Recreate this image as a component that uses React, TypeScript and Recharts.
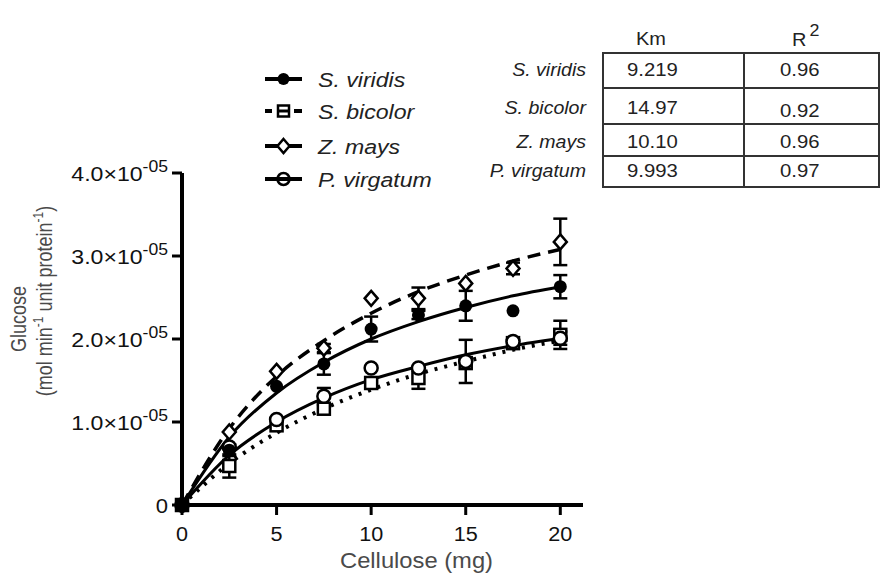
import React from 'react';
import { ComposedChart, Line, Scatter, XAxis, YAxis, ErrorBar, Label } from 'recharts';

// ---- data (glucose in units of 1e-5 mol min-1 unit protein-1) ----
const cellulose = [0, 2.5, 5, 7.5, 10, 12.5, 15, 17.5, 20];

const viridisMean = [0, 0.66, 1.43, 1.70, 2.12, 2.29, 2.40, 2.34, 2.63];
const viridisErr = [0, 0.07, 0, 0.13, 0.15, 0.05, 0.18, 0, 0.14];
const bicolorMean = [0, 0.47, 0.96, 1.16, 1.47, 1.53, 1.71, 1.95, 2.05];
const bicolorErr = [0, 0.14, 0, 0, 0, 0.13, 0, 0, 0.17];
const maysMean = [0, 0.88, 1.61, 1.89, 2.49, 2.49, 2.67, 2.85, 3.17];
const maysErr = [0, 0, 0, 0.05, 0, 0.13, 0, 0.07, 0.28];
const virgatumMean = [0, 0.70, 1.03, 1.31, 1.65, 1.65, 1.73, 1.97, 2.01];
const virgatumErr = [0, 0, 0, 0.10, 0, 0, 0.26, 0, 0.08];

// fitted curves
const viridisFit = [0, 0.82, 1.35, 1.72, 2.0, 2.21, 2.38, 2.52, 2.63];
const bicolorFit = [0, 0.5, 0.87, 1.16, 1.39, 1.58, 1.73, 1.87, 1.98];
const maysFit = [0, 0.92, 1.55, 1.98, 2.31, 2.57, 2.77, 2.94, 3.08];
const virgatumFit = [0, 0.6, 1.0, 1.29, 1.51, 1.67, 1.81, 1.92, 2.01];

const xTicks = [0, 5, 10, 15, 20];
const yTicks = [0, 1, 2, 3, 4];
const yTickExponent = '-05';

const speciesNames = ['S. viridis', 'S. bicolor', 'Z. mays', 'P. virgatum'];
const kmValues = ['9.219', '14.97', '10.10', '9.993'];
const r2Values = ['0.96', '0.92', '0.96', '0.97'];

const FONT = '"Liberation Sans", Arial, Helvetica, sans-serif';

const fitRows = cellulose.map((x, i) => ({
  x,
  viridis: viridisFit[i],
  bicolor: bicolorFit[i],
  mays: maysFit[i],
  virgatum: virgatumFit[i],
}));

const toPoints = (mean: number[], err: number[]) =>
  cellulose.map((x, i) => ({ x, y: mean[i], err: err[i] }));

const viridisPts = toPoints(viridisMean, viridisErr);
const bicolorPts = toPoints(bicolorMean, bicolorErr);
const maysPts = toPoints(maysMean, maysErr);
const virgatumPts = toPoints(virgatumMean, virgatumErr);

// horizontally stretched text helper (the reference type is slightly wide)
const SText = ({ x, y, sx = 1.08, children, ...rest }: any) => (
  <g transform={`translate(${x},${y}) scale(${sx},1)`}>
    <text x={0} y={0} fontFamily={FONT} {...rest}>
      {children}
    </text>
  </g>
);

// ---- marker shapes ----
const FilledCircle = (p: any) => <circle cx={p.cx} cy={p.cy} r={6.5} fill="#000" />;
const OpenSquare = (p: any) => (
  <rect x={p.cx - 6} y={p.cy - 6} width={12} height={12} fill="#fff" stroke="#000" strokeWidth={2.5} />
);
const OpenDiamond = (p: any) => (
  <polygon
    points={`${p.cx},${p.cy - 7.5} ${p.cx + 6.5},${p.cy} ${p.cx},${p.cy + 7.5} ${p.cx - 6.5},${p.cy}`}
    fill="#fff"
    stroke="#000"
    strokeWidth={2.5}
  />
);
const OpenCircle = (p: any) => (
  <circle cx={p.cx} cy={p.cy} r={6.5} fill="#fff" stroke="#000" strokeWidth={2.5} />
);

// ---- ticks ----
const XTick = (props: any) => {
  const { x, y, payload } = props;
  return (
    <SText x={x} y={y + 24} sx={1.03} textAnchor="middle" fontSize={21} fill="#111">
      {payload.value}
    </SText>
  );
};

const YTick = (props: any) => {
  const { x, y, payload } = props;
  const v = payload.value as number;
  if (v === 0) {
    return (
      <SText x={x - 2} y={y + 8} sx={1.05} textAnchor="end" fontSize={21} fill="#111">
        0
      </SText>
    );
  }
  return (
    <SText x={x - 2} y={y + 8} sx={1.1} textAnchor="end" fontSize={21} fill="#111">
      <tspan>{`${v.toFixed(1)}×10`}</tspan>
      <tspan dy={-9} fontSize={16}>{yTickExponent}</tspan>
    </SText>
  );
};

const YTitle = (props: any) => {
  const vb = props.viewBox || { x: 0, y: 173, width: 182, height: 332 };
  const cy = vb.y + vb.height / 2;
  const c1x = 26;
  const c1y = cy - 20;
  const c2x = 52;
  const c2y = cy - 38;
  return (
    <g fontFamily={FONT} fill="#4a4a4a" fontSize={18}>
      <g transform={`translate(${c1x},${c1y}) scale(1.22,1) rotate(-90)`}>
        <text x={0} y={0} textAnchor="middle">
          Glucose
        </text>
      </g>
      <g transform={`translate(${c2x},${c2y}) scale(1.22,1) rotate(-90)`}>
        <text x={0} y={0} textAnchor="middle">
          <tspan>(mol min</tspan>
          <tspan dy={-7} fontSize={12}>-1</tspan>
          <tspan dy={7}> unit protein</tspan>
          <tspan dy={-7} fontSize={12}>-1</tspan>
          <tspan dy={7}>)</tspan>
        </text>
      </g>
    </g>
  );
};

const XTitle = (props: any) => {
  const vb = props.viewBox || { x: 182, y: 505, width: 401, height: 60 };
  const cx = vb.x + vb.width / 2 + 34;
  return (
    <SText x={cx} y={568} sx={1.08} textAnchor="middle" fontSize={22} fill="#4a4a4a">
      Cellulose (mg)
    </SText>
  );
};

// ---- legend & table overlay ----
const legendRowsY = [79, 111, 146, 179];
const tableRowBaselines = [76, 114, 148, 177];
const tableLines = [88, 124, 156];

const LegendMarker = ({ i, y }: { i: number; y: number }) => {
  const mx = 283.5;
  if (i === 0)
    return (
      <g>
        <line x1={265} x2={302} y1={y} y2={y} stroke="#000" strokeWidth={4} />
        <circle cx={mx} cy={y} r={6} fill="#000" />
      </g>
    );
  if (i === 1)
    return (
      <g>
        <line x1={265} x2={272} y1={y} y2={y} stroke="#000" strokeWidth={4} />
        <line x1={278} x2={289} y1={y} y2={y} stroke="#000" strokeWidth={3} />
        <line x1={294} x2={302} y1={y} y2={y} stroke="#000" strokeWidth={4} />
        <rect x={mx - 5.5} y={y - 5.5} width={11} height={11} fill="none" stroke="#000" strokeWidth={2.5} />
      </g>
    );
  if (i === 2)
    return (
      <g>
        <line x1={265} x2={302} y1={y} y2={y} stroke="#000" strokeWidth={4} />
        <polygon
          points={`${mx},${y - 7} ${mx + 6},${y} ${mx},${y + 7} ${mx - 6},${y}`}
          fill="#fff"
          stroke="#000"
          strokeWidth={2.5}
        />
      </g>
    );
  return (
    <g>
      <line x1={265} x2={302} y1={y} y2={y} stroke="#000" strokeWidth={4} />
      <circle cx={mx} cy={y} r={6} fill="none" stroke="#000" strokeWidth={2.5} />
    </g>
  );
};

const Overlay = () => (
  <svg
    width={892}
    height={583}
    style={{ position: 'absolute', left: 0, top: 0, pointerEvents: 'none' }}
    fontFamily={FONT}
  >
    {speciesNames.map((name, i) => (
      <g key={`lg-${i}`}>
        <LegendMarker i={i} y={legendRowsY[i]} />
        <SText x={318} y={legendRowsY[i] + 8} sx={1.1} fontSize={21} fontStyle="italic" fill="#222">
          {name}
        </SText>
      </g>
    ))}
    {/* table */}
    <SText x={651} y={45} sx={1.05} textAnchor="middle" fontSize={19} fill="#222">
      Km
    </SText>
    <SText x={792} y={46} sx={1.05} fontSize={19} fill="#222">
      <tspan>R</tspan>
      <tspan dy={-10} dx={3} fontSize={17}>2</tspan>
    </SText>
    <rect x={603} y={53} width={276} height={134} fill="none" stroke="#333" strokeWidth={2} />
    <line x1={744} x2={744} y1={53} y2={188} stroke="#333" strokeWidth={2} />
    {tableLines.map((ly, i) => (
      <line key={`tl-${i}`} x1={603} x2={879} y1={ly} y2={ly} stroke="#333" strokeWidth={2} />
    ))}
    {speciesNames.map((name, i) => (
      <g key={`tr-${i}`}>
        <SText x={586} y={tableRowBaselines[i]} sx={1.03} textAnchor="end" fontSize={19} fontStyle="italic" fill="#222">
          {name}
        </SText>
        <SText x={627} y={tableRowBaselines[i]} sx={1.07} fontSize={19} fill="#222">
          {kmValues[i]}
        </SText>
        <SText x={780} y={tableRowBaselines[i] + (i === 1 ? 3 : 0)} sx={1.07} fontSize={19} fill="#222">
          {r2Values[i]}
        </SText>
      </g>
    ))}
  </svg>
);

export default function App() {
  return (
    <div style={{ position: 'absolute', left: 0, top: 0, width: 892, height: 583, background: '#fff' }}>
      <ComposedChart
        width={892}
        height={583}
        data={fitRows}
        margin={{ top: 173, right: 309, bottom: 18, left: 0 }}
      >
        <XAxis
          type="number"
          dataKey="x"
          domain={[0, 21.2]}
          ticks={xTicks}
          interval={0}
          height={60}
          axisLine={{ stroke: '#000', strokeWidth: 4 }}
          tickLine={{ stroke: '#000', strokeWidth: 3 }}
          tickSize={10}
          tick={<XTick />}
        >
          <Label content={<XTitle />} />
        </XAxis>
        <YAxis
          type="number"
          domain={[0, 4]}
          ticks={yTicks}
          interval={0}
          width={182}
          axisLine={{ stroke: '#000', strokeWidth: 4 }}
          tickLine={{ stroke: '#000', strokeWidth: 3 }}
          tickSize={10}
          tick={<YTick />}
        >
          <Label content={<YTitle />} />
        </YAxis>

        <Line dataKey="bicolor" type="monotone" stroke="#000" strokeWidth={4} strokeDasharray="3 7" dot={false} activeDot={false} isAnimationActive={false} />
        <Line dataKey="virgatum" type="monotone" stroke="#000" strokeWidth={3} dot={false} activeDot={false} isAnimationActive={false} />
        <Line dataKey="viridis" type="monotone" stroke="#000" strokeWidth={3} dot={false} activeDot={false} isAnimationActive={false} />
        <Line dataKey="mays" type="monotone" stroke="#000" strokeWidth={3.5} strokeDasharray="13 8" dot={false} activeDot={false} isAnimationActive={false} />

        <Scatter data={bicolorPts} dataKey="y" shape={OpenSquare} isAnimationActive={false}>
          <ErrorBar dataKey="err" direction="y" width={7} stroke="#000" strokeWidth={2.5} />
        </Scatter>
        <Scatter data={virgatumPts} dataKey="y" shape={OpenCircle} isAnimationActive={false}>
          <ErrorBar dataKey="err" direction="y" width={7} stroke="#000" strokeWidth={2.5} />
        </Scatter>
        <Scatter data={maysPts} dataKey="y" shape={OpenDiamond} isAnimationActive={false}>
          <ErrorBar dataKey="err" direction="y" width={7} stroke="#000" strokeWidth={2.5} />
        </Scatter>
        <Scatter data={viridisPts} dataKey="y" shape={FilledCircle} isAnimationActive={false}>
          <ErrorBar dataKey="err" direction="y" width={7} stroke="#000" strokeWidth={2.5} />
        </Scatter>
      </ComposedChart>
      <Overlay />
    </div>
  );
}
